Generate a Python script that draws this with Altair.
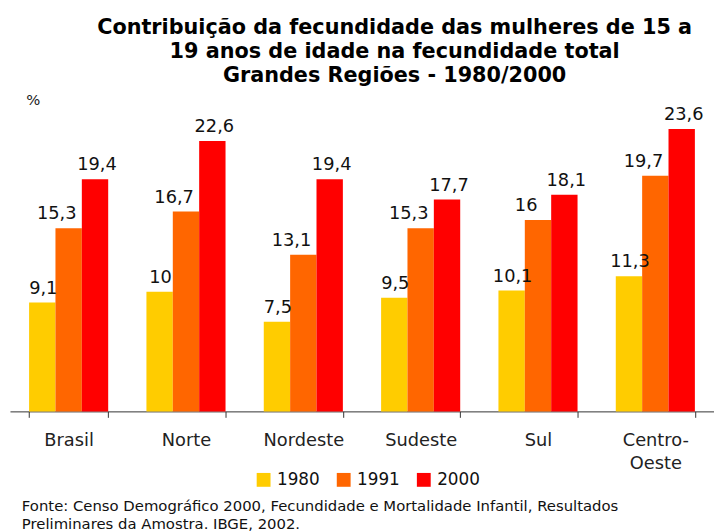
import altair as alt
import pandas as pd

regions = ["Brasil", "Norte", "Nordeste", "Sudeste", "Sul", "Centro-Oeste"]
years = ["1980", "1991", "2000"]
v1980 = [9.1, 10, 7.5, 9.5, 10.1, 11.3]
v1991 = [15.3, 16.7, 13.1, 15.3, 16, 19.7]
v2000 = [19.4, 22.6, 19.4, 17.7, 18.1, 23.6]
colors = ["#FFCC00", "#FF6600", "#FF0000"]

title_lines = [
    "Contribuição da fecundidade das mulheres de 15 a",
    "19 anos de idade na fecundidade total",
    "Grandes Regiões - 1980/2000",
]
source_lines = [
    "Fonte: Censo Demográfico 2000, Fecundidade e Mortalidade Infantil, Resultados",
    "Preliminares da Amostra. IBGE, 2002.",
]

rows = []
for yr, vals in zip(years, [v1980, v1991, v2000]):
    for r, v in zip(regions, vals):
        rows.append({"region": r, "year": yr, "value": v,
                     "label": (f"{v:g}").replace(".", ",")})
df = pd.DataFrame(rows)

FONT = "DejaVu Sans"
p_in = 1 - 80 / 118.67

base = alt.Chart(df).encode(
    x=alt.X(
        "region:N", sort=regions, title=None,
        scale=alt.Scale(paddingInner=p_in, paddingOuter=p_in / 2),
        axis=alt.Axis(
            tickBand="extent", tickSize=6, tickColor="#333333", domainColor="#333333",
            labelAngle=0, labelFontSize=18, labelFont=FONT, labelColor="#222222",
            labelPadding=14, labelLineHeight=24,
            labelExpr="datum.label == 'Centro-Oeste' ? ['Centro-', 'Oeste'] : datum.label",
        ),
    ),
    xOffset=alt.XOffset("year:N", sort=years,
                        scale=alt.Scale(domain=years, paddingInner=0, paddingOuter=0)),
    y=alt.Y(
        "value:Q", scale=alt.Scale(domain=[0, 25], nice=False),
        axis=alt.Axis(
            title="%", titleAngle=0, titleX=16, titleY=-13, titleAlign="left",
            titleBaseline="middle", titleFontSize=15, titleFontWeight="normal",
            titleFont=FONT, titleColor="#222222",
            domain=False, ticks=False, labels=False, grid=False,
        ),
    ),
)

bars = base.mark_bar().encode(
    color=alt.Color(
        "year:N", sort=years, scale=alt.Scale(domain=years, range=colors),
        legend=alt.Legend(
            title=None, orient="none", direction="horizontal", legendX=248, legendY=363,
            symbolType="square", symbolSize=196, symbolStrokeWidth=0, symbolOpacity=1,
            labelFontSize=17, labelFont=FONT, labelColor="#111111", labelOffset=5,
            columnPadding=15,
        ),
    )
)

dxs = {"1980": 1, "1991": -12, "2000": 2}
texts = [
    base.transform_filter(alt.datum.year == yr).mark_text(
        dx=dxs[yr], dy=-9, fontSize=18, font=FONT, color="#111111", baseline="alphabetic"
    ).encode(text="label:N")
    for yr in years
]

source = alt.Chart(pd.DataFrame({"k": [0]})).mark_text(
    align="left", baseline="top", fontSize=15, font=FONT, color="#111111", lineHeight=18
).encode(x=alt.value(12), y=alt.value(391), text=alt.value(source_lines))

chart = alt.layer(bars, *texts, source).properties(
    width=712, height=302.5,
    padding={"left": 2, "top": 102.5, "right": 0, "bottom": 118},
    autosize=alt.AutoSizeParams(type="none"),
    background="white",
    title=alt.TitleParams(
        text=title_lines, fontSize=21, fontWeight="bold", font=FONT, color="#000000",
        anchor="middle", dx=33, offset=7, lineHeight=24,
    ),
).configure_view(strokeWidth=0)

chart.save("out.html", embed_options={"renderer": "svg", "actions": False})
